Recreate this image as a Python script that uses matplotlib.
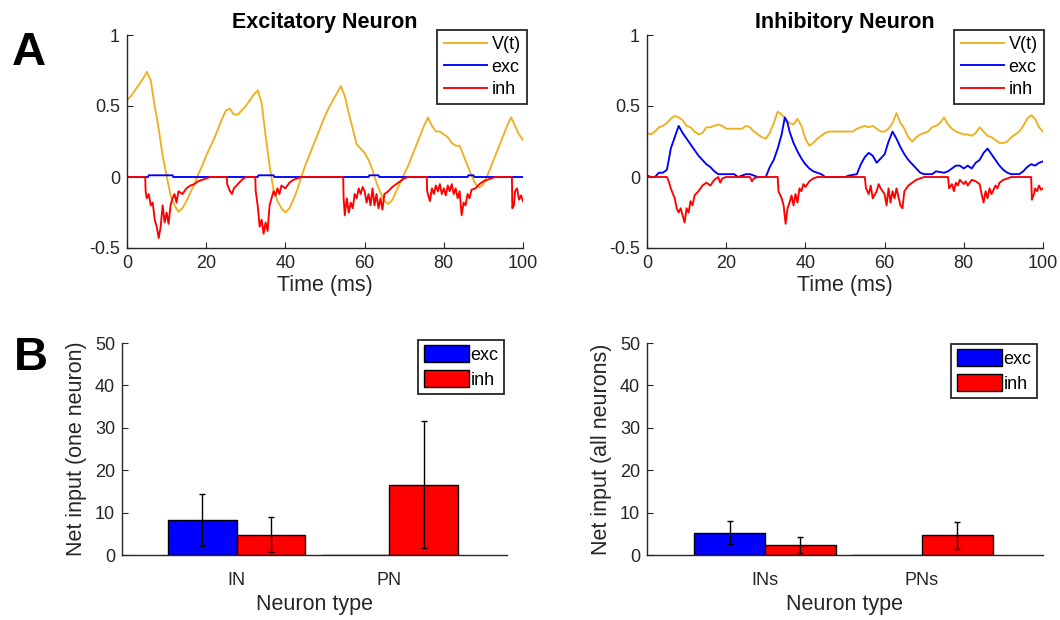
import numpy as np
import matplotlib
matplotlib.use("Agg")
import matplotlib.pyplot as plt

plt.rcParams["font.family"] = ["Liberation Sans", "DejaVu Sans"]

AX_COLOR = "#262626"
V_COLOR = "#EDB120"
EXC_COLOR = "#0000FF"
INH_COLOR = "#FF0000"

# ---- panel A: traces (time in ms) ----
t_v = np.arange(0, 101)

v_exc_neuron = [
    0.54, 0.57, 0.61, 0.65, 0.69, 0.74, 0.68, 0.50, 0.34, 0.15,
    0.01, -0.13, -0.20, -0.245, -0.22, -0.17, -0.11, -0.05, 0.02, 0.08,
    0.15, 0.21, 0.27, 0.34, 0.41, 0.47, 0.48, 0.44, 0.44, 0.47,
    0.50, 0.54, 0.58, 0.61, 0.52, 0.29, 0.08, -0.09, -0.17, -0.22,
    -0.25, -0.22, -0.16, -0.09, 0.00, 0.08, 0.15, 0.22, 0.29, 0.36,
    0.43, 0.49, 0.54, 0.59, 0.64, 0.57, 0.45, 0.34, 0.23, 0.20,
    0.17, 0.12, 0.05, -0.04, -0.11, -0.17, -0.19, -0.16, -0.10, -0.04,
    0.02, 0.08, 0.15, 0.22, 0.29, 0.36, 0.42, 0.36, 0.32, 0.32,
    0.30, 0.28, 0.24, 0.22, 0.22, 0.15, 0.08, 0.01, -0.05, -0.075,
    -0.05, 0.01, 0.08, 0.15, 0.22, 0.29, 0.36, 0.42, 0.36, 0.30,
    0.26,
]

v_inh_neuron = [
    0.31, 0.30, 0.32, 0.35, 0.36, 0.38, 0.41, 0.43, 0.42, 0.40,
    0.36, 0.35, 0.32, 0.30, 0.31, 0.35, 0.35, 0.36, 0.37, 0.36,
    0.34, 0.34, 0.34, 0.34, 0.34, 0.36, 0.35, 0.32, 0.30, 0.28,
    0.27, 0.31, 0.38, 0.46, 0.44, 0.41, 0.38, 0.37, 0.41, 0.36,
    0.27, 0.22, 0.24, 0.27, 0.29, 0.31, 0.32, 0.32, 0.32, 0.32,
    0.32, 0.32, 0.32, 0.34, 0.35, 0.36, 0.35, 0.36, 0.34, 0.32,
    0.32, 0.34, 0.38, 0.45, 0.38, 0.34, 0.28, 0.25, 0.28, 0.30,
    0.31, 0.32, 0.35, 0.36, 0.38, 0.42, 0.37, 0.34, 0.32, 0.31,
    0.30, 0.30, 0.29, 0.31, 0.35, 0.32, 0.29, 0.28, 0.26, 0.24,
    0.24, 0.25, 0.28, 0.30, 0.32, 0.36, 0.41, 0.435, 0.41, 0.35,
    0.32,
]

# excitatory input onto the excitatory neuron (almost zero)
exc_e_t = [0, 5.3, 5.5, 11.5, 11.7, 33, 33.2, 37, 37.2, 61, 61.2, 63.5, 63.7,
           86, 86.2, 87.5, 87.7, 100]
exc_e_v = [0, 0, 0.012, 0.012, 0, 0, 0.012, 0.012, 0, 0, 0.012, 0.012, 0,
           0, 0.012, 0.012, 0, 0]

inh_e_t = [0, 4.6, 4.7, 5, 5.5, 6, 6.5, 7, 7.5, 8, 8.5, 9, 9.5, 10, 10.5, 11, 11.5,
           12, 12.5, 13, 14, 15, 16, 17, 18, 19, 20, 21,
           25.2, 25.3, 26, 26.5, 27, 28, 29, 30,
           32.4, 32.5, 33, 33.5, 34, 34.5, 35, 35.5, 36, 36.5, 37, 37.5, 38, 38.5,
           39, 40, 41, 42, 43, 44,
           54.6, 54.7, 55, 55.5, 56, 56.5, 57, 57.5, 58, 58.5, 59, 59.5, 60, 60.5,
           61, 61.5, 62, 62.5, 63, 63.5, 64, 64.5, 65, 66, 67, 68, 69, 70, 71,
           75.7, 75.8, 76.5, 77, 77.5, 78, 78.5, 79, 79.5, 80, 80.5, 81, 81.5, 82,
           82.5, 83, 83.5, 84, 84.5, 85, 85.5, 86, 86.5, 87, 88, 89, 90, 91, 92, 93,
           97.2, 97.3, 97.7, 98, 98.5, 99, 99.5, 100]
inh_e_v = [0, 0, -0.10, -0.15, -0.12, -0.20, -0.18, -0.30, -0.35, -0.43, -0.35, -0.20,
           -0.32, -0.25, -0.33, -0.20, -0.15, -0.12, -0.18, -0.10, -0.12, -0.08, -0.06,
           -0.05, -0.03, -0.02, -0.01, 0,
           0, -0.05, -0.10, -0.12, -0.08, -0.05, -0.02, 0,
           0, -0.10, -0.20, -0.35, -0.30, -0.40, -0.32, -0.38, -0.20, -0.15, -0.10,
           -0.13, -0.08, -0.12, -0.06, -0.08, -0.04, -0.02, -0.01, 0,
           0, -0.15, -0.27, -0.15, -0.25, -0.18, -0.22, -0.12, -0.15, -0.08, -0.12,
           -0.07, -0.10, -0.18, -0.12, -0.20, -0.08, -0.20, -0.12, -0.22, -0.15, -0.23,
           -0.12, -0.10, -0.07, -0.05, -0.03, -0.01, 0,
           0, -0.10, -0.17, -0.08, -0.12, -0.06, -0.10, -0.05, -0.12, -0.08, -0.13,
           -0.06, -0.10, -0.05, -0.12, -0.08, -0.15, -0.10, -0.27, -0.18, -0.20, -0.12,
           -0.15, -0.09, -0.08, -0.05, -0.03, -0.02, -0.01, 0,
           0, -0.22, -0.20, -0.10, -0.08, -0.16, -0.13, -0.17]

exc_i_t = [0, 1, 2, 3, 4, 5, 5.5, 6, 7, 8, 9, 10, 11, 12, 13, 14, 15, 16, 17, 18,
           22, 23, 24, 25, 26, 28, 30, 31, 32, 33, 34, 34.8, 35.5, 36, 37, 38, 39, 40,
           41, 42, 43, 44, 45, 50, 51, 53, 54, 55, 56, 57, 58, 59, 60, 61, 62, 63, 64,
           65, 66, 67, 68, 69, 70, 72, 73, 75, 76, 77, 78, 79, 80, 81, 82, 83, 84, 85,
           86, 87, 88, 89, 90, 91, 92, 94, 95, 96, 97, 98, 99, 100]
exc_i_v = [0.01, 0, 0, 0.03, 0.03, 0.05, 0.12, 0.20, 0.28, 0.36, 0.31, 0.27, 0.23,
           0.19, 0.15, 0.12, 0.09, 0.07, 0.04, 0.02, 0.02, 0, 0.01, 0.02, 0.02, 0, 0,
           0.07, 0.12, 0.20, 0.30, 0.42, 0.38, 0.32, 0.24, 0.18, 0.13, 0.09, 0.06, 0.04,
           0.03, 0.02, 0, 0, 0.01, 0.02, 0.09, 0.14, 0.17, 0.15, 0.10, 0.13, 0.16, 0.25,
           0.32, 0.27, 0.21, 0.16, 0.12, 0.09, 0.06, 0.03, 0.02, 0.02, 0.04, 0.03, 0.04,
           0.06, 0.08, 0.08, 0.06, 0.08, 0.06, 0.10, 0.12, 0.17, 0.20, 0.16, 0.12, 0.08,
           0.05, 0.03, 0.02, 0.02, 0.04, 0.07, 0.09, 0.08, 0.10, 0.11]

inh_i_t = [0, 5, 5.5, 6, 7, 7.5, 8, 8.5, 9, 9.5, 10, 10.5, 11, 11.5, 12, 13, 14, 15,
           16, 17, 18, 18.5, 19, 20,
           26, 26.5, 27, 28,
           33, 33.2, 34, 34.5, 35, 35.5, 36, 36.5, 37, 37.5, 38, 38.5, 39, 39.5, 40,
           41, 42, 43,
           55, 55.3, 56, 56.5, 57, 58, 58.5, 59, 60, 60.5, 61, 61.5, 62, 62.5, 63, 64,
           64.5, 65, 66, 67, 68, 69, 70,
           76, 76.3, 77, 77.5, 78, 78.5, 79, 80, 80.5, 81, 82, 83, 84, 84.5, 85, 85.5,
           86, 86.5, 87, 88, 88.5, 89, 90, 91, 92,
           97, 97.2, 97.7, 98, 98.5, 99, 99.5, 100]
inh_i_v = [0, 0, -0.03, -0.08, -0.15, -0.22, -0.25, -0.22, -0.27, -0.32, -0.22, -0.25,
           -0.17, -0.20, -0.13, -0.10, -0.06, -0.04, -0.06, -0.02, 0, -0.04, -0.01, 0,
           0, -0.03, -0.01, 0,
           0, -0.10, -0.15, -0.20, -0.33, -0.22, -0.18, -0.13, -0.20, -0.12, -0.18,
           -0.08, -0.10, -0.05, -0.07, -0.03, -0.01, 0,
           0, -0.08, -0.12, -0.06, -0.15, -0.10, -0.05, -0.08, -0.12, -0.20, -0.08,
           -0.18, -0.10, -0.15, -0.08, -0.20, -0.22, -0.10, -0.06, -0.04, -0.02, -0.01, 0,
           0, -0.08, -0.05, -0.10, -0.04, -0.06, -0.02, -0.05, -0.03, -0.06, -0.02,
           -0.03, -0.05, -0.12, -0.18, -0.10, -0.15, -0.08, -0.12, -0.06, -0.08, -0.04,
           -0.02, -0.01, 0,
           0, -0.16, -0.12, -0.08, -0.10, -0.06, -0.09, -0.08]

# ---- panel B: net input bars ----
groups_one = ["IN", "PN"]
exc_one = [8.2, 0.0]
exc_one_err = [6.1, 0.0]
inh_one = [4.8, 16.6]
inh_one_err = [4.2, 14.9]

groups_all = ["INs", "PNs"]
exc_all = [5.3, 0.0]
exc_all_err = [2.8, 0.0]
inh_all = [2.4, 4.6]
inh_all_err = [1.9, 3.1]


def style_axes(ax):
    for side in ["top", "right"]:
        ax.spines[side].set_visible(False)
    for side in ["left", "bottom"]:
        ax.spines[side].set_color(AX_COLOR)
        ax.spines[side].set_linewidth(1.0)
    ax.tick_params(direction="in", length=4, width=0.8, colors=AX_COLOR,
                   labelsize=13, pad=5)


def trace_panel(ax, v, et, ev, it, iv, title, legend_anchor):
    ax.plot(t_v, v, color=V_COLOR, lw=1.35, label="V(t)")
    ax.plot(et, ev, color=EXC_COLOR, lw=1.35, label="exc")
    ax.plot(it, iv, color=INH_COLOR, lw=1.35, label="inh")
    ax.set_xlim(0, 100)
    ax.set_ylim(-0.5, 1)
    ax.set_xticks([0, 20, 40, 60, 80, 100])
    ax.set_yticks([-0.5, 0, 0.5, 1])
    ax.set_yticklabels(["-0.5", "0", "0.5", "1"])
    ax.set_xlabel("Time (ms)", fontsize=15.5, color=AX_COLOR, labelpad=2)
    ax.set_title(title, fontsize=15.5, fontweight="bold", pad=5)
    style_axes(ax)
    leg = ax.legend(loc="upper right", bbox_to_anchor=legend_anchor,
                    bbox_transform=fig.transFigure, borderaxespad=0,
                    fontsize=13, handlelength=2.4, handletextpad=0.25,
                    labelspacing=0.3, borderpad=0.35, fancybox=False,
                    framealpha=1)
    leg.get_frame().set_edgecolor(AX_COLOR)
    leg.get_frame().set_linewidth(1.3)


def bar_panel(ax, groups, ev, ee, iv, ie, ylabel, legend_anchor):
    x = np.arange(1, len(groups) + 1)
    w = 0.45
    ax.bar(x - w / 2, ev, w, color=EXC_COLOR, edgecolor="black", lw=1.0, label="exc")
    ax.bar(x + w / 2, iv, w, color=INH_COLOR, edgecolor="black", lw=1.0, label="inh")
    for xi, val, err in zip(x - w / 2, ev, ee):
        if err > 0:
            ax.errorbar(xi, val, yerr=err, color="black", lw=1.0, capsize=2.5,
                        capthick=1.0)
    for xi, val, err in zip(x + w / 2, iv, ie):
        ax.errorbar(xi, val, yerr=err, color="black", lw=1.0, capsize=2.5,
                    capthick=1.0)
    ax.set_xlim(0.25, 2.77)
    ax.set_ylim(0, 50)
    ax.set_xticks(x)
    ax.set_xticklabels(groups)
    ax.set_yticks([0, 10, 20, 30, 40, 50])
    ax.set_xlabel("Neuron type", fontsize=15.5, color=AX_COLOR, labelpad=4)
    ax.set_ylabel(ylabel, fontsize=15.5, color=AX_COLOR, labelpad=6)
    style_axes(ax)
    ax.tick_params(axis="x", length=0, pad=12)
    leg = ax.legend(loc="upper right", bbox_to_anchor=legend_anchor,
                    bbox_transform=fig.transFigure, borderaxespad=0,
                    fontsize=13, handlelength=2.5, handleheight=1.05,
                    handletextpad=0.1, labelspacing=0.35, borderpad=0.3,
                    fancybox=False, framealpha=1)
    leg.get_frame().set_edgecolor(AX_COLOR)
    leg.get_frame().set_linewidth(1.3)


fig = plt.figure(figsize=(10.6, 6.2), dpi=100)

ax1 = fig.add_axes([127 / 1060, 1 - 248 / 620, 396 / 1060, 213 / 620])
ax2 = fig.add_axes([647 / 1060, 1 - 248 / 620, 396 / 1060, 213 / 620])
ax3 = fig.add_axes([122 / 1060, 1 - 555 / 620, 385 / 1060, 212 / 620])
ax4 = fig.add_axes([647 / 1060, 1 - 555 / 620, 396 / 1060, 212 / 620])

trace_panel(ax1, v_exc_neuron, exc_e_t, exc_e_v, inh_e_t, inh_e_v,
            "Excitatory Neuron", (527 / 1060, 1 - 30 / 620))
trace_panel(ax2, v_inh_neuron, exc_i_t, exc_i_v, inh_i_t, inh_i_v,
            "Inhibitory Neuron", (1044 / 1060, 1 - 30 / 620))
bar_panel(ax3, groups_one, exc_one, exc_one_err, inh_one, inh_one_err,
          "Net input (one neuron)", (504 / 1060, 1 - 340 / 620))
bar_panel(ax4, groups_all, exc_all, exc_all_err, inh_all, inh_all_err,
          "Net input (all neurons)", (1037 / 1060, 1 - 344 / 620))

fig.text(12 / 1060, 1 - 65 / 620, "A", fontsize=34, fontweight="bold", va="baseline")
fig.text(14 / 1060, 1 - 370 / 620, "B", fontsize=34, fontweight="bold", va="baseline")

fig.savefig("out.png", dpi=100)
